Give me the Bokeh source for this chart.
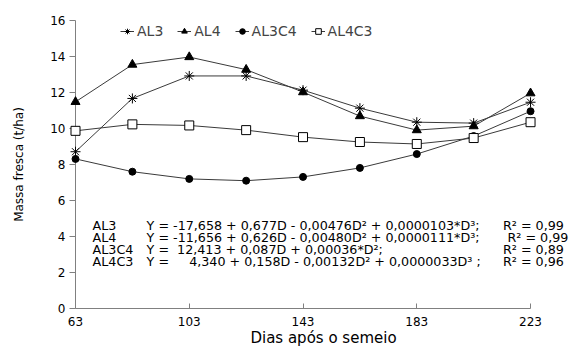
from bokeh.plotting import figure
from bokeh.models import Range1d, Legend, LegendItem, Label, FixedTicker
from bokeh.embed import file_html
from bokeh.resources import INLINE

# ---- data ----
days = [63, 83, 103, 123, 143, 163, 183, 203, 223]
al3 = [8.71, 11.67, 12.92, 12.92, 12.13, 11.13, 10.35, 10.3, 11.46]
al4 = [11.48, 13.55, 13.97, 13.27, 12.02, 10.69, 9.91, 10.13, 11.96]
al3c4 = [8.31, 7.6, 7.2, 7.1, 7.31, 7.81, 8.58, 9.58, 10.96]
al4c3 = [9.87, 10.23, 10.17, 9.91, 9.52, 9.25, 9.14, 9.47, 10.35]
series_names = ["AL3", "AL4", "AL3C4", "AL4C3"]
x_ticks = [63, 103, 143, 183, 223]
y_ticks = [0, 2, 4, 6, 8, 10, 12, 14, 16]
eq_names = ["AL3", "AL4", "AL3C4", "AL4C3"]
eq_texts = [
    "Y = -17,658 + 0,677D - 0,00476D\u00b2 + 0,0000103*D\u00b3;",
    "Y = -11,656 + 0,626D - 0,00480D\u00b2 + 0,0000111*D\u00b3;",
    "Y =\u00a0 12,413 + 0,087D + 0,00036*D\u00b2;",
    "Y =\u00a0\u00a0\u00a0\u00a0 4,340 + 0,158D - 0,00132D\u00b2 + 0,0000033D\u00b3 ;",
]
r2_texts = ["R\u00b2 = 0,99", "R\u00b2 = 0,99", "R\u00b2 = 0,89", "R\u00b2 = 0,96"]

FONT = "DejaVu Sans"
LINE = "#3a3a3a"
AXIS = "#808080"

p = figure(width=571, height=349,
           x_range=Range1d(63, 237.4), y_range=Range1d(0, 16),
           output_backend="svg", toolbar_location=None,
           min_border_left=75, min_border_right=0,
           min_border_top=20, min_border_bottom=40)
p.outline_line_color = None
p.xgrid.visible = False
p.ygrid.visible = False

# axes
xa = p.xaxis[0]
xa.ticker = FixedTicker(ticks=x_ticks)
xa.bounds = (63, 223)
xa.major_tick_in = 5
xa.major_tick_out = 0
xa.minor_tick_line_color = None
xa.axis_line_color = AXIS
xa.major_tick_line_color = AXIS
xa.major_label_text_font = FONT
xa.major_label_text_font_size = "12px"
xa.major_label_text_color = "black"
xa.major_label_standoff = 8
xa.axis_label = "Dias após o semeio"
xa.axis_label_text_font = FONT
xa.axis_label_text_font_size = "15px"
xa.axis_label_text_font_style = "normal"
xa.axis_label_text_color = "black"
xa.axis_label_standoff = 0

ya = p.yaxis[0]
ya.ticker = FixedTicker(ticks=y_ticks)
ya.major_tick_in = 0
ya.major_tick_out = 6
ya.minor_tick_line_color = None
ya.axis_line_color = AXIS
ya.major_tick_line_color = AXIS
ya.major_label_text_font = FONT
ya.major_label_text_font_size = "12px"
ya.major_label_text_color = "black"
ya.major_label_standoff = 4
ya.axis_label = "Massa fresca (t/ha)"
ya.axis_label_text_font = FONT
ya.axis_label_text_font_size = "12px"
ya.axis_label_text_font_style = "normal"
ya.axis_label_text_color = "black"
ya.axis_label_standoff = 21

# series
l1 = p.line(days, al3, line_color=LINE, line_width=1)
s1 = p.scatter(days, al3, marker="asterisk", size=10, line_color="black", line_width=1, level="overlay")
l2 = p.line(days, al4, line_color=LINE, line_width=1)
s2 = p.scatter(days, al4, marker="triangle", size=9, fill_color="black", line_color="black", level="overlay")
l3 = p.line(days, al3c4, line_color=LINE, line_width=1)
s3 = p.scatter(days, al3c4, marker="circle", size=7, fill_color="black", line_color="black", level="overlay")
l4 = p.line(days, al4c3, line_color=LINE, line_width=1)
s4 = p.scatter(days, al4c3, marker="square", size=9, fill_color="white", line_color="black", line_width=1, level="overlay")

legend = Legend(items=[
    LegendItem(label=series_names[0], renderers=[l1, s1]),
    LegendItem(label=series_names[1], renderers=[l2, s2]),
    LegendItem(label=series_names[2], renderers=[l3, s3]),
    LegendItem(label=series_names[3], renderers=[l4, s4]),
], orientation="horizontal", location=(45, 269),
    border_line_color=None, background_fill_alpha=0,
    padding=0, margin=0, spacing=14,
    glyph_width=14, glyph_height=14, label_height=14, label_standoff=3,
    label_text_font=FONT, label_text_font_size="14px")
p.add_layout(legend)

# regression equations
eq_y = [4.6, 3.93, 3.27, 2.6]
r2_x = [213.3, 214.9, 213.3, 213.3]
for i in range(4):
    for xx, txt in ((69.0, eq_names[i]), (88.0, eq_texts[i]), (r2_x[i], r2_texts[i])):
        p.add_layout(Label(x=xx, y=eq_y[i], text=txt, x_units="data", y_units="data",
                           text_baseline="middle", text_align="left",
                           text_font=FONT, text_font_size="12.7px", text_color="black"))

open("out.html", "w").write(file_html(p, INLINE))
